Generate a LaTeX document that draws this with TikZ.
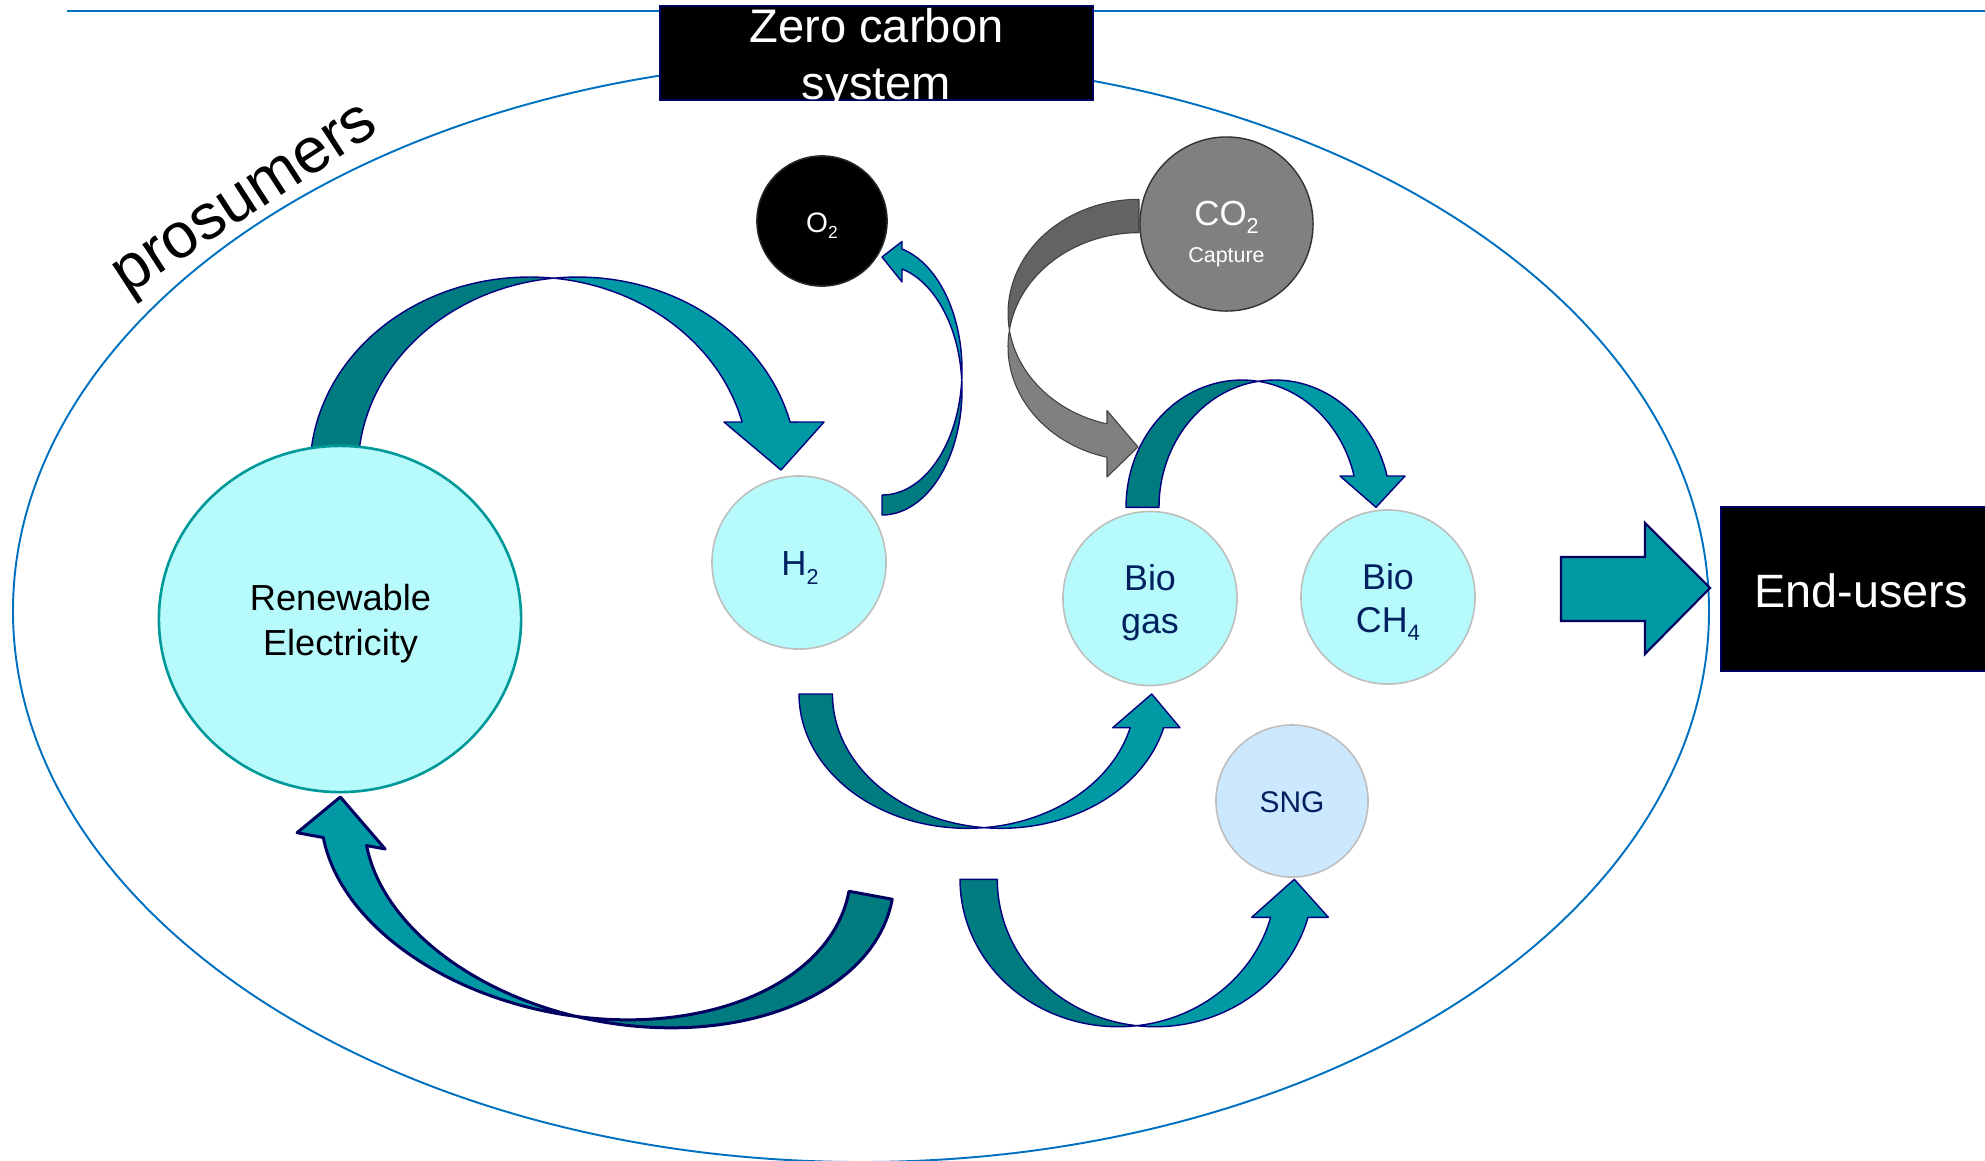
\documentclass[tikz,border=0pt]{standalone}
\usepackage{fontspec}
\setmainfont{Liberation Sans}
\usepackage{graphicx}
\usetikzlibrary{shapes.geometric}

\definecolor{tealL}{RGB}{0,153,164}
\definecolor{tealD}{RGB}{0,123,128}
\definecolor{navyB}{RGB}{0,0,128}
\definecolor{navyC}{RGB}{0,0,96}
\definecolor{cyanF}{RGB}{182,250,252}
\definecolor{renB}{RGB}{0,153,153}
\definecolor{cgrey}{RGB}{190,190,190}
\definecolor{sngF}{RGB}{204,232,254}
\definecolor{navyT}{RGB}{0,32,96}
\definecolor{greyD}{RGB}{99,99,99}
\definecolor{greyL}{RGB}{128,128,128}
\definecolor{greyB}{RGB}{64,64,64}
\definecolor{blueL}{RGB}{0,112,192}

\newcommand\chemsub[1]{\raisebox{-0.24em}{\scalebox{0.62}{#1}}}

\begin{document}
\begin{tikzpicture}[x=0.01cm,y=-0.01cm,
  circ/.style={ellipse, inner sep=0, draw=cgrey, line width=0.45pt, fill=cyanF},
  lbl/.style={inner sep=0, anchor=base},
  rdark/.style={fill=tealD, draw=navyB, line width=0.4pt, line join=round},
  rlight/.style={fill=tealL, draw=navyB, line width=0.4pt, line join=round},
  gdark/.style={fill=greyD, draw=greyB, line width=0.3pt, line join=round},
  glight/.style={fill=greyL, draw=greyB, line width=0.3pt, line join=round},
  blackbox/.style={draw=navyC, fill=black, line width=0.6pt, inner sep=0}
]
\useasboundingbox (0,0) rectangle (1985,1160);

% frame ellipse and top line
\draw[blueL, line width=0.55pt] (861,611) ellipse [x radius=848, y radius=551];
\draw[blueL, line width=0.65pt] (67,11) -- (1985,11);

% title box
\node[blackbox, minimum width=4.33cm, minimum height=0.94cm] (title) at (876.5,53) {};
\node[lbl, text=white, font=\fontsize{13.4}{16}\selectfont] (titleA) at (876.5,42.7) {Zero carbon};
\node[lbl, text=white, font=\fontsize{13.4}{16}\selectfont] (titleB) at (876.5,99) {system};

% prosumers
\node[lbl, rotate=33, font=\fontsize{18.2}{22}\selectfont] (pros) at (254,213) {prosumers};

% Arrow 1: Renewable -> H2
\draw[rdark] (310,470) arc[start angle=180,end angle=276.28,x radius=219.5,y radius=193]
  arc[start angle=263.72,end angle=180,x radius=219.5,y radius=193] -- cycle;
\draw[rlight] (553.5,278.2) arc[start angle=263.72,end angle=345.6,x radius=219.5,y radius=193]
  -- (824,422) -- (781,470) -- (724,422) -- (742.1,422)
  arc[start angle=345.6,end angle=276.28,x radius=219.5,y radius=193] -- cycle;

% Arrow 2: H2 -> O2
\draw[rdark] (882,495) arc[start angle=90,end angle=4.589,x radius=80,y radius=125]
  arc[start angle=-4.589,end angle=90,x radius=80,y radius=125] -- cycle;
\draw[rlight] (961.74,380) arc[start angle=4.589,end angle=-75.52,x radius=80,y radius=125]
  -- (902,241.5) -- (882,257) -- (902,282) -- (902,268.97)
  arc[start angle=-75.52,end angle=-4.589,x radius=80,y radius=125] -- cycle;

% Arrow 3: CO2 -> Biogas (grey)
\draw[gdark] (1139,199.3) arc[start angle=270,end angle=171.576,x radius=131,y radius=114]
  arc[start angle=188.424,end angle=270,x radius=131,y radius=114] -- cycle;
\draw[glight] (1009.41,330) arc[start angle=171.576,end angle=104.14,x radius=131,y radius=114]
  -- (1107,410.5) -- (1138,447) -- (1107,477) -- (1107,457.25)
  arc[start angle=104.14,end angle=188.424,x radius=131,y radius=114] -- cycle;

% Arrow 4: Biogas -> Bio CH4
\draw[rdark] (1126,507.3) arc[start angle=180,end angle=278.19,x radius=115.8,y radius=127.3]
  arc[start angle=261.81,end angle=180,x radius=115.8,y radius=127.3] -- cycle;
\draw[rlight] (1258.3,381.3) arc[start angle=261.81,end angle=345.77,x radius=115.8,y radius=127.3]
  -- (1405,476) -- (1376,507.3) -- (1340,476) -- (1354.05,476)
  arc[start angle=345.77,end angle=278.19,x radius=115.8,y radius=127.3] -- cycle;

% Arrow 5: -> Biogas
\draw[rdark] (799,694) arc[start angle=180,end angle=84.29,x radius=168.3,y radius=134.3]
  arc[start angle=95.71,end angle=180,x radius=168.3,y radius=134.3] -- cycle;
\draw[rlight] (984.05,827.6) arc[start angle=84.29,end angle=14.53,x radius=168.3,y radius=134.3]
  -- (1112.7,727.7) -- (1151.7,694) -- (1180,727.7) -- (1163.72,727.7)
  arc[start angle=14.53,end angle=95.71,x radius=168.3,y radius=134.3] -- cycle;

% Arrow 7: -> SNG
\draw[rdark] (960,879.3) arc[start angle=180,end angle=83.22,x radius=158,y radius=147.4]
  arc[start angle=96.78,end angle=180,x radius=158,y radius=147.4] -- cycle;
\draw[rlight] (1136.65,1025.67) arc[start angle=83.22,end angle=14.94,x radius=158,y radius=147.4]
  -- (1251.7,917.3) -- (1294.3,879.3) -- (1328.3,917.3) -- (1307.96,917.3)
  arc[start angle=14.94,end angle=96.78,x radius=158,y radius=147.4] -- cycle;

% Arrow 6: bottom -> Renewable
\begin{scope}[rotate around={-10.5:(600,900)}]
\draw[rdark, draw=navyC, line width=0.85pt] (887.2,846) arc[start angle=0,end angle=94.72,x radius=267.5,y radius=173.4]
  arc[start angle=85.28,end angle=0,x radius=267.5,y radius=173.4] -- cycle;
\draw[rlight, draw=navyC, line width=0.85pt] (597.7,1018.81) arc[start angle=94.72,end angle=165.64,x radius=267.5,y radius=173.4]
  -- (379.4,889) -- (325.9,846) -- (289.9,889) -- (316.56,889)
  arc[start angle=165.64,end angle=85.28,x radius=267.5,y radius=173.4] -- cycle;
\end{scope}

% circles
\node[circ, draw=renB, line width=0.75pt, minimum width=3.62cm, minimum height=3.46cm] (re) at (340,619) {};
\node[circ, minimum width=1.74cm, minimum height=1.73cm] (h2) at (799,562.5) {};
\node[circ, fill=black, draw=black!85, minimum width=1.30cm, minimum height=1.30cm] (o2) at (822,221) {};
\node[circ, fill=greyL, draw=black!80, line width=0.4pt, minimum width=1.73cm, minimum height=1.74cm] (co2) at (1226.5,224) {};
\node[circ, minimum width=1.74cm, minimum height=1.74cm] (biogas) at (1150,598.5) {};
\node[circ, minimum width=1.74cm, minimum height=1.74cm] (bioch4) at (1388,597) {};
\node[circ, fill=sngF, minimum width=1.52cm, minimum height=1.52cm] (sng) at (1292,801) {};

% texts
\node[lbl, font=\fontsize{10.3}{12}\selectfont] (reA) at (340.5,610) {Renewable};
\node[lbl, font=\fontsize{10.3}{12}\selectfont] (reB) at (340.5,655) {Electricity};
\node[lbl, text=navyT, font=\fontsize{9.9}{12}\selectfont] (h2t) at (800,575.7) {H\chemsub{2}};
\node[lbl, text=white, font=\fontsize{8}{10}\selectfont] (o2t) at (822,232) {O\chemsub{2}};
\node[lbl, text=white, font=\fontsize{9.9}{12}\selectfont] (co2t) at (1226.5,225) {CO\chemsub{2}};
\node[lbl, text=white, font=\fontsize{6.1}{7}\selectfont] (capt) at (1226.5,262.6) {Capture};
\node[lbl, text=navyT, font=\fontsize{10.2}{12}\selectfont] (bgA) at (1150,590) {Bio};
\node[lbl, text=navyT, font=\fontsize{10.2}{12}\selectfont] (bgB) at (1150,633) {gas};
\node[lbl, text=navyT, font=\fontsize{10.2}{12}\selectfont] (bcA) at (1388,589) {Bio};
\node[lbl, text=navyT, font=\fontsize{10.2}{12}\selectfont] (bcB) at (1388,632) {CH\chemsub{4}};
\node[lbl, text=navyT, font=\fontsize{8.5}{10}\selectfont] (sngt) at (1292,812) {SNG};

% block arrow and End-users
\draw[fill=tealL, draw=navyC, line width=0.6pt, line join=miter] (1561,557) -- (1645,557) -- (1645,523) -- (1710,588)
  -- (1645,654) -- (1645,621) -- (1561,621) -- cycle;
\node[blackbox, minimum width=2.80cm, minimum height=1.64cm, anchor=west] (users) at (1720,589) {};
\node[lbl, text=white, font=\fontsize{13.3}{16}\selectfont] (userst) at (1861,607) {End-users};
\end{tikzpicture}
\end{document}
